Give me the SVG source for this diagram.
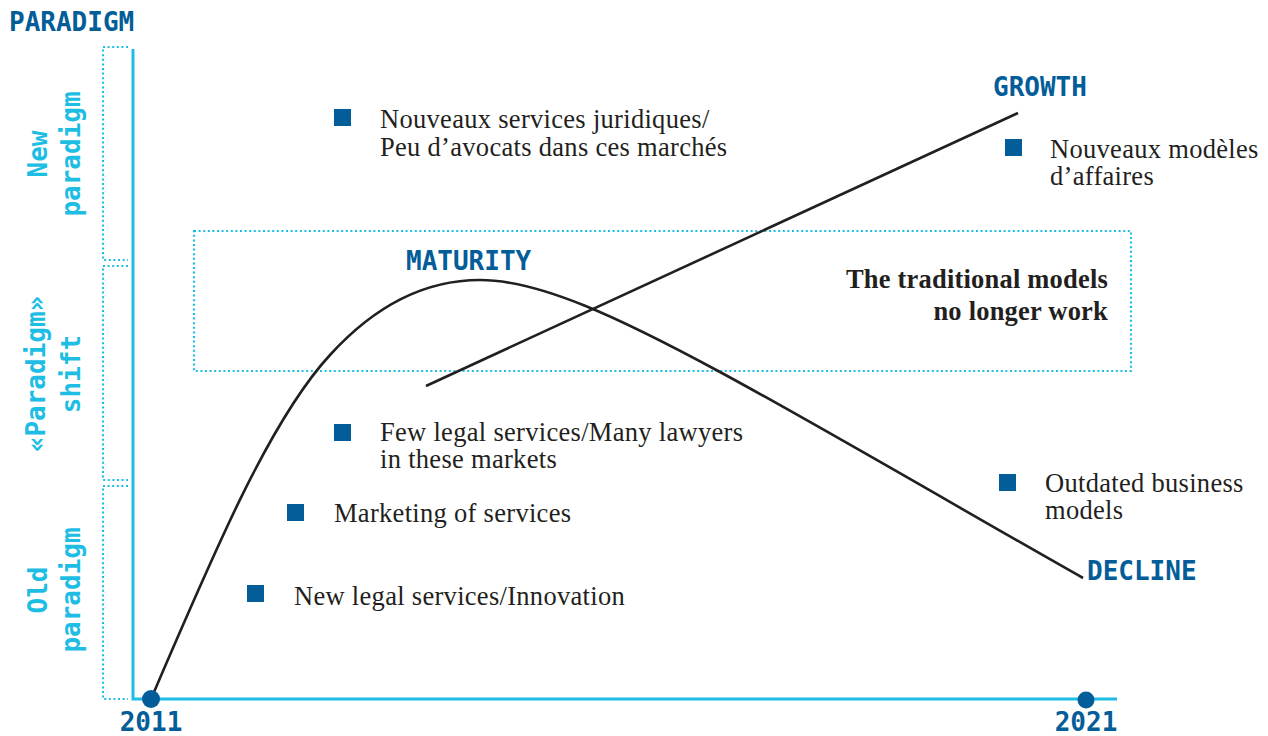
<svg xmlns="http://www.w3.org/2000/svg" width="1268" height="736" viewBox="0 0 1268 736">
<style>
.mono{font-family:"DejaVu Sans Mono","Liberation Mono",monospace;font-weight:bold;}
.head{fill:#035d98;font-size:26px;}
.side{fill:#1ebde3;font-size:26px;}
.body{font-family:"Liberation Serif",serif;font-size:26.5px;letter-spacing:0.3px;fill:#231f20;}
.bold{font-weight:bold;letter-spacing:0.2px;}
.dot{fill:none;stroke:#1ebde3;stroke-width:2.2;stroke-dasharray:2 2.6;}
.axis{fill:none;stroke:#1ebde3;stroke-width:3;}
.curve{fill:none;stroke:#231f20;stroke-width:2.6;}
.sq{fill:#035d98;}
.pt{fill:#035d98;}
</style>
<rect width="1268" height="736" fill="#ffffff"/>
<g id="title"><text class="mono head" x="9" y="31">PARADIGM</text></g>
<g id="brackets">
<path class="dot" d="M128,47 H103 V260 H128"/>
<path class="dot" d="M128,266 H103 V480 H128"/>
<path class="dot" d="M128,486 H103 V699 H128"/>
</g>
<g id="side-new"><text class="mono side" transform="translate(0,154) rotate(-90)" text-anchor="middle"><tspan x="0" y="47">New</tspan><tspan x="0" y="80">paradigm</tspan></text></g>
<g id="side-shift"><text class="mono side" transform="translate(0,374) rotate(-90)" text-anchor="middle"><tspan x="0" y="45">«Paradigm»</tspan><tspan x="0" y="80">shift</tspan></text></g>
<g id="side-old"><text class="mono side" transform="translate(0,590) rotate(-90)" text-anchor="middle"><tspan x="0" y="47">Old</tspan><tspan x="0" y="80">paradigm</tspan></text></g>
<g id="axes"><path class="axis" d="M133,49 V699 H1117"/></g>
<g id="zone"><rect class="dot" x="194" y="231" width="937" height="140"/>
<text class="body bold" text-anchor="end"><tspan x="1108" y="288">The traditional models</tspan><tspan x="1108" y="320">no longer work</tspan></text></g>
<g id="connectors">
<path class="curve" d="M151,699 C215,550 270,420 330,355 C380,300 430,280 480,280 C540,280 620,318 720,372 C820,426 980,520 1083,578"/>
<path class="curve" d="M426,386 L1018,113"/>
</g>
<g id="p2011"><circle class="pt" cx="151" cy="699" r="9"/><text class="mono head" x="151" y="731" text-anchor="middle">2011</text></g>
<g id="p2021"><circle class="pt" cx="1086" cy="700" r="8.5"/><text class="mono head" x="1086" y="731" text-anchor="middle">2021</text></g>
<g id="maturity"><text class="mono head" x="406" y="270">MATURITY</text></g>
<g id="growth"><text class="mono head" x="993" y="96">GROWTH</text></g>
<g id="decline"><text class="mono head" x="1087" y="580">DECLINE</text></g>
<g id="item1"><rect class="sq" x="334" y="109" width="17" height="17"/><text class="body"><tspan x="380" y="128">Nouveaux services juridiques/</tspan><tspan x="380" y="156">Peu d’avocats dans ces marchés</tspan></text></g>
<g id="item2"><rect class="sq" x="334" y="424" width="17" height="17"/><text class="body"><tspan x="380" y="441">Few legal services/Many lawyers</tspan><tspan x="380" y="468">in these markets</tspan></text></g>
<g id="item3"><rect class="sq" x="287" y="504" width="17" height="17"/><text class="body" x="334" y="522">Marketing of services</text></g>
<g id="item4"><rect class="sq" x="247" y="585" width="17" height="17"/><text class="body" x="294" y="605">New legal services/Innovation</text></g>
<g id="item5"><rect class="sq" x="1005" y="139" width="17" height="17"/><text class="body"><tspan x="1050" y="158">Nouveaux modèles</tspan><tspan x="1050" y="185">d’affaires</tspan></text></g>
<g id="item6"><rect class="sq" x="999" y="474" width="17" height="17"/><text class="body"><tspan x="1045" y="492">Outdated business</tspan><tspan x="1045" y="519">models</tspan></text></g>
</svg>
